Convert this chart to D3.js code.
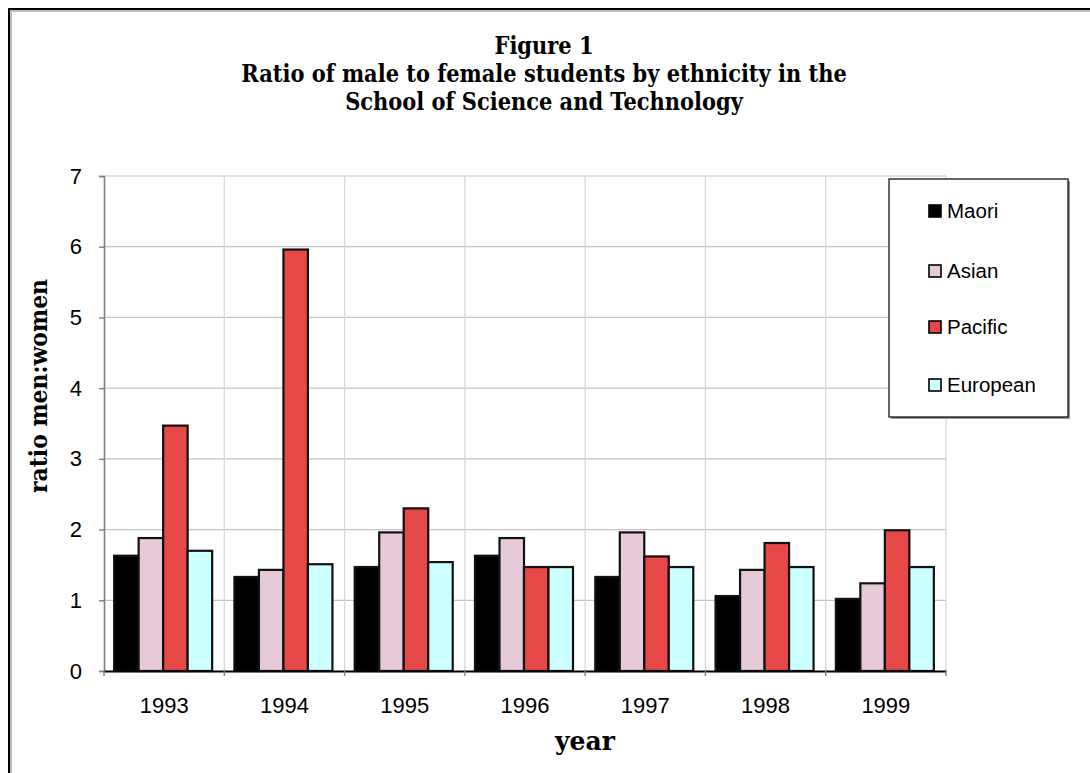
<!DOCTYPE html>
<html>
<head>
<meta charset="utf-8">
<script src="https://cdn.jsdelivr.net/npm/d3@7"></script>
<style>
  body { margin: 0; background: #fff; }
  svg { display: block; }
</style>
</head>
<body>
<svg id="chart" width="1090" height="773"></svg>
<script>
// data
const years = ["1993", "1994", "1995", "1996", "1997", "1998", "1999"];
const groups = ["Maori", "Asian", "Pacific", "European"];
const maori = [1.63, 1.33, 1.47, 1.63, 1.33, 1.06, 1.02];
const asian = [1.88, 1.43, 1.96, 1.88, 1.96, 1.43, 1.24];
const pacific = [3.47, 5.96, 2.30, 1.47, 1.62, 1.81, 1.99];
const european = [1.70, 1.51, 1.54, 1.47, 1.47, 1.47, 1.47];
const yTicks = [0, 1, 2, 3, 4, 5, 6, 7];
const colors = ["#000000", "#e6cad8", "#e54847", "#ccffff"];

const series = [maori, asian, pacific, european];

const svg = d3.select("#chart");

// squeeze a serif text horizontally by factor s
function squeeze(sel, x, y, s, rotate)
{
  sel.attr("transform", `translate(${x},${y})` + (rotate ? " rotate(-90)" : "") + ` scale(${s},1)`);
}

// outer frame (only top and left edges show)
svg.append("path")
  .attr("d", "M11,773 L11,11 L1090,11")
  .attr("fill", "none").attr("stroke", "#aaa").attr("stroke-width", 1.5);
svg.append("path")
  .attr("d", "M9,773 L9,9 L1090,9")
  .attr("fill", "none").attr("stroke", "#000").attr("stroke-width", 2);

const plotLeft = 104, plotRight = 946, plotTop = 176, plotBottom = 671;

const x = d3.scaleBand().domain(years).range([plotLeft, plotRight]);
const x1 = d3.scaleBand().domain(groups).range([0, 98]);
const y = d3.scaleLinear().domain([0, 7]).range([plotBottom, plotTop]);

// gridlines
svg.append("g").selectAll("line").data(yTicks.slice(1)).join("line")
  .attr("x1", plotLeft).attr("x2", plotRight)
  .attr("y1", d => y(d)).attr("y2", d => y(d))
  .attr("stroke", "#c4c4c4").attr("stroke-width", 1.2);

svg.append("g").selectAll("line").data(years.slice(1).concat(["end"])).join("line")
  .attr("x1", d => d === "end" ? plotRight : x(d))
  .attr("x2", d => d === "end" ? plotRight : x(d))
  .attr("y1", plotTop).attr("y2", plotBottom)
  .attr("stroke", "#d6d6d6").attr("stroke-width", 1.2);

// bars
const offset = (x.bandwidth() - 98) / 2 - 1;
groups.forEach((g, gi) =>
{
  svg.append("g").selectAll("rect").data(series[gi]).join("rect")
    .attr("x", (d, i) => x(years[i]) + offset + x1(g))
    .attr("y", d => y(d))
    .attr("width", x1.bandwidth())
    .attr("height", d => plotBottom - y(d))
    .attr("fill", colors[gi])
    .attr("stroke", "#111")
    .attr("stroke-width", 2.2);
});

// y axis
const yAxis = svg.append("g")
  .attr("transform", `translate(${plotLeft},0)`)
  .call(d3.axisLeft(y).tickValues(yTicks).tickSize(5).tickPadding(17).tickFormat(d3.format("d")));
yAxis.select(".domain").attr("stroke", "#808080").attr("stroke-width", 1.6);
yAxis.selectAll(".tick line").attr("stroke", "#808080").attr("stroke-width", 1.4);
yAxis.selectAll("text").attr("font-family", "Liberation Sans, Arial, sans-serif")
  .attr("font-size", 22).attr("fill", "#000");

// x axis
const xAxis = svg.append("g")
  .attr("transform", `translate(0,${plotBottom})`)
  .call(d3.axisBottom(x).tickSize(0).tickPadding(26));
xAxis.select(".domain").attr("stroke", "#000").attr("stroke-width", 1.8);
xAxis.selectAll("text").attr("font-family", "Liberation Sans, Arial, sans-serif")
  .attr("font-size", 22).attr("fill", "#000");
svg.append("g").selectAll("line").data(years.concat(["end"])).join("line")
  .attr("x1", d => d === "end" ? plotRight : x(d))
  .attr("x2", d => d === "end" ? plotRight : x(d))
  .attr("y1", plotBottom).attr("y2", plotBottom + 5)
  .attr("stroke", "#808080").attr("stroke-width", 1.4);

// title, all lines squeezed by the same factor so line 2 spans ~606px
const title = ["Figure 1",
  "Ratio of male to female students by ethnicity in the",
  "School of Science and Technology"];
const titleBase = [54, 82, 110];
const titleTexts = title.map(t => svg.append("text")
  .attr("text-anchor", "middle")
  .attr("font-family", "DejaVu Serif, serif")
  .attr("font-weight", "bold")
  .attr("font-size", 24)
  .text(t));
const titleScale = 606 / titleTexts[1].node().getComputedTextLength();
titleTexts.forEach((txt, i) => squeeze(txt, 544, titleBase[i], titleScale, false));

// axis titles
const yLabel = svg.append("text")
  .attr("text-anchor", "middle")
  .attr("font-family", "DejaVu Serif, serif")
  .attr("font-weight", "bold")
  .attr("font-size", 24)
  .text("ratio men:women");
squeeze(yLabel, 47, 386, 214 / yLabel.node().getComputedTextLength(), true);

const xLabel = svg.append("text")
  .attr("text-anchor", "middle")
  .attr("font-family", "DejaVu Serif, serif")
  .attr("font-weight", "bold")
  .attr("font-size", 26)
  .text("year");
squeeze(xLabel, 585, 750, 60 / xLabel.node().getComputedTextLength(), false);

// legend
const legend = svg.append("g");
legend.append("rect")
  .attr("x", 891).attr("y", 181).attr("width", 179).attr("height", 238)
  .attr("fill", "#999");
legend.append("rect")
  .attr("x", 889).attr("y", 179).attr("width", 179).attr("height", 238)
  .attr("fill", "#fff").attr("stroke", "#000").attr("stroke-width", 1.2);
const entryY = [211, 271, 327, 385];
groups.forEach((g, gi) =>
{
  legend.append("rect")
    .attr("x", 929).attr("y", entryY[gi] - 6)
    .attr("width", 12).attr("height", 12)
    .attr("fill", colors[gi])
    .attr("stroke", "#000").attr("stroke-width", 1.6);
  legend.append("text")
    .attr("x", 947).attr("y", entryY[gi] + 7)
    .attr("font-family", "Liberation Sans, Arial, sans-serif")
    .attr("font-size", 20.5)
    .text(g);
});
</script>
</body>
</html>
